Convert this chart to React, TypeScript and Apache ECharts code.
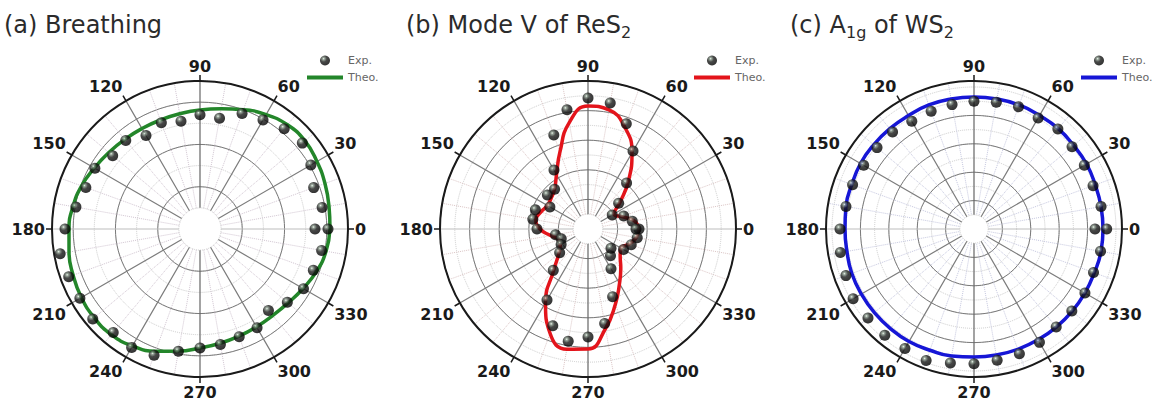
import React, { useEffect, useRef } from "react";
import * as echarts from "echarts";

// Polarisation angle (degrees) of every measured / computed value
const ANGLES = [0, 10, 20, 30, 40, 50, 60, 70, 80, 90, 100, 110, 120, 130, 140, 150, 160, 170, 180,
  190, 200, 210, 220, 230, 240, 250, 260, 270, 280, 290, 300, 310, 320, 330, 340, 350, 360];

// Intensities (a.u.)
const BREATHING_EXP = [128, 124, 121, 128, 133.6, 131, 126, 123, 112.5, 114.3, 109.5, 113, 108, 115.5, 114,
  121.4, 121.5, 126, 135, 142, 139.7, 138.7, 140, 135, 136.7, 134.3, 124.2, 119, 117.3, 114.6, 114.1,
  106.5, 114, 119.5, 120.6, 123.5, 115];
const BREATHING_THEO = [130, 131, 133, 135, 137, 136, 132, 127, 122, 119, 117, 116, 116, 117, 119, 122, 126,
  129, 131, 133, 135, 137, 138, 138, 135, 130, 124, 119, 116, 114, 113, 113, 115, 119, 124, 128, 130];

const MODEV_EXP = [51, 45, 38, 28, 40, 60, 90, 112, 128, 131, 121, 100, 68, 52, 53, 44, 56, 56, 51, 33, 28.5,
  31, 37, 54, 82, 103, 114, 108, 96, 72, 46, 35, 30, 41, 46, 50, 48];
const MODEV_THEO = [51, 47, 36, 30, 42, 63, 88, 108, 121, 123, 108, 82, 63, 52, 48, 47, 50, 53, 48, 38, 31,
  32, 38, 53, 85, 111, 122, 120, 101, 80, 63, 51, 42, 38, 44, 49, 51];

const A1G_EXP = [132.7, 129, 126.7, 127.4, 128, 130.5, 128.3, 130.1, 128.7, 127.7, 126.3, 125.3, 124.4, 126.7,
  126.6, 127.4, 129.2, 130, 134, 135.7, 136.3, 139.6, 138.4, 138.8, 138.1, 139.9, 136.1, 134.7, 133.3,
  132.7, 130.9, 127.9, 127.7, 128.1, 127.2, 128.5, 121];
const A1G_THEO = [129, 129, 129, 130, 130, 131, 131, 132, 132, 132, 132, 132, 131, 131, 131, 131, 130, 130,
  129, 129, 130, 130, 130, 130, 130, 129, 129, 128, 128, 128, 128, 128, 128, 128, 128, 129, 129];

const PANELS = [
  { key: "a", exp: BREATHING_EXP, theo: BREATHING_THEO, color: "#23862a", minor: "#d2c6d2", cx: 200, step: 21.14, majors: 3, legendLeft: 307, titleLeft: 4, title: "(a) Breathing" },
  { key: "b", exp: MODEV_EXP, theo: MODEV_THEO, color: "#e3141b", minor: "#dcc6c6", cx: 588, step: 14.8, majors: 5, legendLeft: 694, titleLeft: 406, title: "(b) Mode V of ReS{sub|2}" },
  { key: "c", exp: A1G_EXP, theo: A1G_THEO, color: "#1616d6", minor: "#c6c8e0", cx: 974, step: 14.2, majors: 4, legendLeft: 1081, titleLeft: 790, title: "(c) A{sub|1g} of WS{sub|2}" },
];

const OUTER = 148;
const CY = 229;

const sphere = {
  type: "radial", x: 0.36, y: 0.32, r: 0.7,
  colorStops: [
    { offset: 0, color: "#eaf4ea" },
    { offset: 0.16, color: "#7c8c7e" },
    { offset: 0.46, color: "#1a1b1a" },
    { offset: 1, color: "#000000" },
  ],
};

const hidden = { axisLine: { show: false }, axisTick: { show: false }, axisLabel: { show: false }, splitLine: { show: false } };

export default function App() {
  const ref = useRef<HTMLDivElement>(null);
  useEffect(() => {
    if (!ref.current) return;
    const chart = echarts.init(ref.current, undefined, { renderer: "svg" });
    const polar: any[] = [];
    const angleAxis: any[] = [];
    const radiusAxis: any[] = [];
    const series: any[] = [];
    const legend: any[] = [];
    const title: any[] = [];
    PANELS.forEach((p, i) => {
      const main = 3 * i;
      const maj = 3 * i + 1;
      const frame = 3 * i + 2;
      const majR = 2 * p.step * p.majors;
      polar.push({ center: [p.cx, CY], radius: [p.step, OUTER] });
      polar.push({ center: [p.cx, CY], radius: [0, majR] });
      polar.push({ center: [p.cx, CY], radius: [0, OUTER] });
      // main: minor grid, radial spokes, data
      angleAxis.push({
        polarIndex: main, type: "value", min: 0, max: 360, interval: 30, startAngle: 0, clockwise: false,
        axisLine: { show: false }, axisTick: { show: false }, axisLabel: { show: false },
        splitLine: { show: true, lineStyle: { color: ["#bdbdbd", "#7c7c7c", "#7c7c7c", "#666666", "#7c7c7c", "#7c7c7c"], width: 1.2 } },
        minorTick: { show: false, splitNumber: 3 },
        minorSplitLine: { show: true, lineStyle: { color: p.minor, type: "dotted", width: 1 } },
      });
      radiusAxis.push({
        polarIndex: main, type: "value", min: p.step, max: OUTER, interval: p.step,
        axisLine: { show: false }, axisTick: { show: false }, axisLabel: { show: false },
        splitLine: { show: true, lineStyle: { color: "#cbcbcb", type: "dotted", width: 1 } },
      });
      // major circles
      angleAxis.push({ polarIndex: maj, type: "value", min: 0, max: 360, startAngle: 0, clockwise: false, ...hidden });
      radiusAxis.push({
        polarIndex: maj, type: "value", min: 0, max: majR, interval: 2 * p.step,
        axisLine: { show: false }, axisTick: { show: false }, axisLabel: { show: false },
        splitLine: { show: true, lineStyle: { color: "#7a7a7a", width: 1 } },
      });
      // frame: outer circle, ticks, angle labels
      angleAxis.push({
        polarIndex: frame, type: "value", min: 0, max: 360, interval: 30, startAngle: 0, clockwise: false,
        axisLine: { show: true, lineStyle: { color: "#1a1a1a", width: 2 } },
        axisTick: { show: true, length: 6, lineStyle: { color: "#1a1a1a", width: 1.5 } },
        axisLabel: {
          margin: 7, fontSize: 16, fontWeight: "bold", fontFamily: "DejaVu Sans", color: "#1a1a1a",
          formatter: (v: number) => (v === 360 ? "" : String(v)),
        },
        splitLine: { show: false },
      });
      radiusAxis.push({ polarIndex: frame, type: "value", min: 0, max: OUTER, ...hidden });

      series.push({
        name: p.key + ":Theo.", type: "line", coordinateSystem: "polar", polarIndex: main,
        data: ANGLES.map((a, k) => [p.theo[k], a]), smooth: true, symbol: "none",
        lineStyle: { color: p.color, width: 3.5 }, itemStyle: { color: p.color }, z: 3,
      });
      series.push({
        name: p.key + ":Exp.", type: "scatter", coordinateSystem: "polar", polarIndex: main,
        data: ANGLES.map((a, k) => [p.exp[k], a]), symbol: "circle", symbolSize: 11,
        itemStyle: { color: sphere }, z: 4,
      });
      legend.push({
        data: [
          { name: p.key + ":Exp." },
          { name: p.key + ":Theo.", icon: "path://M0 0H36V4H0Z", itemStyle: { color: p.color } },
        ],
        orient: "vertical", left: p.legendLeft, top: 55,
        itemWidth: 36, itemHeight: 10, itemGap: 6, padding: 0, selectedMode: false,
        formatter: (n: string) => n.split(":")[1],
        textStyle: { fontSize: 11, fontFamily: "DejaVu Sans", color: "#666" },
      });
      title.push({
        text: p.title, left: p.titleLeft, top: 10, padding: 0,
        textStyle: {
          fontSize: 24, fontWeight: "normal", fontFamily: "DejaVu Sans", color: "#2b2b2b", lineHeight: 30,
          rich: { sub: { fontSize: 16, fontFamily: "DejaVu Sans", color: "#2b2b2b", lineHeight: 16, padding: [14, 0, 0, 0] } },
        },
      });
    });
    chart.setOption({
      animation: false, backgroundColor: "#ffffff",
      title, legend, polar, angleAxis, radiusAxis, series,
    });
    return () => chart.dispose();
  }, []);
  return <div ref={ref} style={{ position: "fixed", left: 0, top: 0, width: 1156, height: 402 }} />;
}
